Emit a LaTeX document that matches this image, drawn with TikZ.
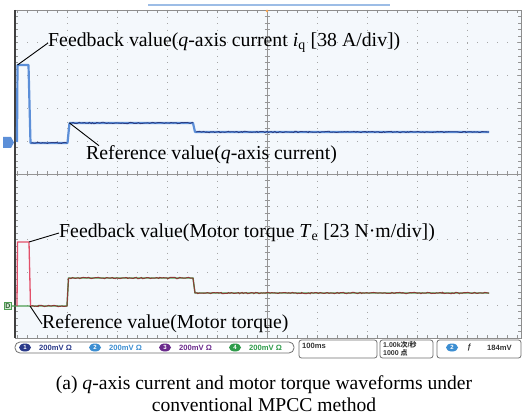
\documentclass[tikz,border=0pt]{standalone}
\usepackage{fontspec}
\setmainfont{Liberation Serif}
\newfontfamily\barfont{Liberation Sans}
\newfontfamily\cjkfont{Noto Sans CJK SC}
\usetikzlibrary{decorations.pathmorphing,shapes.geometric}

\definecolor{screenbg}{HTML}{F4F8FC}
\definecolor{gridgray}{HTML}{A6A6A6}
\definecolor{framegray}{HTML}{707070}
\definecolor{chblue}{HTML}{5C8FD8}
\definecolor{navy}{HTML}{2C3E82}
\definecolor{spike}{HTML}{E2506A}
\definecolor{torque}{HTML}{8B3A36}
\definecolor{refgreen}{HTML}{4E9E52}
\definecolor{chone}{HTML}{2A3A8A}
\definecolor{chtwo}{HTML}{3C8ED2}
\definecolor{chthree}{HTML}{6A2A8C}
\definecolor{chfour}{HTML}{2E9B4A}
\definecolor{posbar}{HTML}{9DBDE6}

\tikzset{
  lab/.style={anchor=west, inner sep=0pt, font=\fontsize{19.8}{22}\selectfont},
  leader/.style={draw=black, line width=0.9pt},
  hdots/.style={draw=gridgray, line width=0.9pt, dash pattern=on 0.9pt off 9.1pt},
  vdots/.style={draw=gridgray, line width=0.9pt, dash pattern=on 0.9pt off 5.66pt},
  tickline/.style={draw=gridgray!90!black, line width=0.6pt},
  noisy/.style={decorate, decoration={random steps, segment length=1.6pt, amplitude=0.7pt}},
  barbox/.style={draw=framegray, line width=0.8pt, rounded corners=2.5pt},
  bartext/.style={inner sep=0pt, anchor=west, font=\barfont\bfseries\fontsize{7.6}{8}\selectfont},
  chbadge/.style={ellipse, fill=#1, minimum width=12pt, minimum height=8pt, inner sep=0pt,
    text=white, font=\barfont\bfseries\fontsize{6}{6}\selectfont},
}

\begin{document}
\begin{tikzpicture}[x=1pt,y=-1pt]
\pgfmathsetseed{7}
\useasboundingbox (0,0) rectangle (524,419);
\fill[white] (0,0) rectangle (524,419);

% scope screen
\fill[screenbg] (15,10) rectangle (521,338);

% dotted graticule
\foreach \k in {1,2,3,4,6,7,8,9} {
  \draw[hdots] (17,{10+32.8*\k}) -- (521,{10+32.8*\k});
  \draw[vdots] ({17+50*\k},10) -- ({17+50*\k},338);
}

% centre axes with minor ticks
\draw[tickline] (15,174) -- (521,174);
\draw[tickline] (267,10) -- (267,338);
\foreach \x in {17,27,...,517} {
  \draw[tickline] (\x,171.5) -- (\x,176.5);
  \draw[tickline] (\x,10) -- (\x,13);
  \draw[tickline] (\x,335) -- (\x,338);
}
\foreach \k in {0,...,50} {
  \draw[tickline] (264.5,{10+6.56*\k}) -- (269.5,{10+6.56*\k});
  \draw[tickline] (15,{10+6.56*\k}) -- (18,{10+6.56*\k});
  \draw[tickline] (518,{10+6.56*\k}) -- (521,{10+6.56*\k});
}

% frame
\draw[framegray!80, line width=0.9pt] (15,10) -- (521,10) -- (521,338) -- (15,338);
\draw[black!75, line width=1.4pt] (15,10) -- (15,338);

% horizontal position bar and trigger mark
\draw[posbar, line width=2pt] (148,5) -- (390,5);
\fill[orange!70] (267,11) circle (1.3pt);

% channel markers at the left edge
\fill[chblue] (3,137) -- (11,137) -- (14,142.5) -- (11,148) -- (3,148) -- cycle;
\node[draw=refgreen, fill=refgreen!25, line width=0.6pt, inner sep=0.8pt,
  font=\barfont\bfseries\fontsize{7}{7}\selectfont, text=refgreen!60!black]
  (dmark) at (8,306) {D};

% q-axis current trace
\coordinate (ia) at (17.5,65);
\coordinate (ib) at (28.5,65);
\coordinate (ic) at (69.5,123);
\draw[chblue, line width=2.2pt, line join=round]
  (17,142) -- (ia) -- (ib) -- (30.5,143) -- (67.5,143) -- (ic)
  -- (193,123) -- (195,132) -- (489,132);
\draw[navy, line width=0.8pt, noisy] (31,143) -- (67,143);
\draw[navy, line width=0.8pt, noisy] (70,123) -- (193,123);
\draw[navy, line width=0.8pt, noisy] (196,132) -- (489,132);

% motor torque traces
\coordinate (ta) at (29,242);
\coordinate (tb) at (30,306);
\draw[refgreen, line width=1.4pt] (dmark.east) -- (30,306) -- (67,306) -- (68.5,278)
  -- (193,278) -- (195,293) -- (489,293);
\draw[spike, line width=1.3pt, line join=round]
  (17,306) -- (17.5,242) -- (ta) -- (30.5,306);
\draw[torque, line width=1pt, noisy] (31,306) -- (67,306);
\draw[torque, line width=1pt] (67,306) -- (68.5,278);
\draw[torque, line width=1pt, noisy] (69,278) -- (193,278);
\draw[torque, line width=1pt] (193,278) -- (195,293);
\draw[torque, line width=1pt, noisy] (195,293) -- (489,293);

% annotations
\node[lab] (l1) at (48,43)
  {Feedback value(\textit{q}-axis current \textit{i}\textsubscript{q} [38 A/div])};
\node[lab] (l2) at (86,155) {Reference value(\textit{q}-axis current)};
\node[lab] (l3) at (59,233)
  {Feedback value(Motor torque \textit{T}\textsubscript{e} [23 N\textperiodcentered m/div])};
\node[lab] (l4) at (42,324) {Reference value(Motor torque)};

\draw[leader] (ia) -- (l1.west);
\draw[leader] (ic) -- ([xshift=13pt]l2.north west);
\draw[leader] (ta) -- (l3.west);
\draw[leader] (tb) -- (l4.west);

% status bar
\draw[barbox, rounded corners=5pt] (15,342) rectangle (294,353);
\node[chbadge=chone]   (c1) at (25,347.5) {1};
\node[bartext, text=chone]   at (39,347.5) {200mV Ω};
\node[chbadge=chtwo]   (c2) at (95,347.5) {2};
\node[bartext, text=chtwo]   at (109,347.5) {200mV Ω};
\node[chbadge=chthree] (c3) at (165,347.5) {3};
\node[bartext, text=chthree] at (179,347.5) {200mV Ω};
\node[chbadge=chfour]  (c4) at (235,347.5) {4};
\node[bartext, text=chfour]  at (249,347.5) {200mV Ω};

\draw[barbox] (299,340) rectangle (377,358);
\node[bartext, text=black!80] (tb1) at (302,346) {100ms};
\draw[barbox] (380,340) rectangle (433,358);
\node[bartext, text=black!80, anchor=north west, align=left,
  font=\barfont\bfseries\fontsize{7}{7.5}\selectfont] (sr) at (383,341.5)
  {1.00k{\cjkfont 次}/{\cjkfont 秒}\\1000 {\cjkfont 点}};
\draw[barbox] (437,340) rectangle (521,358);
\node[chbadge=chtwo] (c5) at (452,347.5) {2};
\node[bartext, text=black!80] at (467,347.5) {\textit{ƒ}};
\node[bartext, text=black!80] at (487,347.5) {184mV};

% caption
\node[inner sep=0pt, align=center, font=\fontsize{19.6}{22}\selectfont] (cap) at (264,394)
  {(a) \textit{q}-axis current and motor torque waveforms under\\conventional MPCC method};
\end{tikzpicture}
\end{document}
